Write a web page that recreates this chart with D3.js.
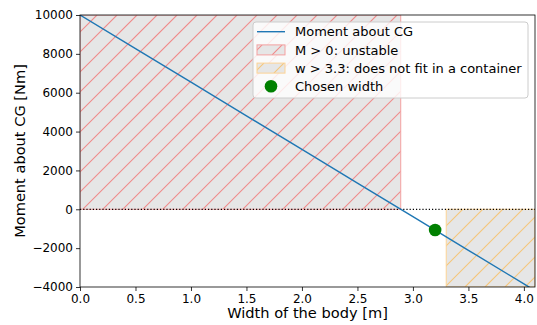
<!DOCTYPE html>
<html>
<head>
<meta charset="utf-8">
<script src="https://cdn.jsdelivr.net/npm/d3@7"></script>
<style>
  html, body { margin: 0; padding: 0; background: #fff; }
  svg { display: block; font-family: "DejaVu Sans", sans-serif; }
</style>
</head>
<body>
<svg id="chart" width="537" height="325"></svg>
<script>
// Moment about the centre of gravity as a function of body width
const widths  = [0, 0.5, 1, 1.5, 2, 2.5, 3, 3.5, 4, 4.1];
const moments = [10000, 8270, 6540, 4810, 3080, 1350, -380, -2110, -3840, -4190];

// Regions and chosen design point
const unstableWidth = [0, 2.89];          // M > 0
const unstableMoment = [0, 10000];
const containerWidth = [3.3, 4.1];        // w > 3.3
const containerMoment = [-4000, 0];
const chosenWidth = [3.2];
const chosenMoment = [-1070];

const xTicks = [0, 0.5, 1, 1.5, 2, 2.5, 3, 3.5, 4];
const yTicks = [-4000, -2000, 0, 2000, 4000, 6000, 8000, 10000];

const legendLabels = [
  "Moment about CG",
  "M > 0: unstable",
  "w > 3.3: does not fit in a container",
  "Chosen width"
];

const margin = { left: 80, right: 2, top: 15, bottom: 38 };
const W = 537, H = 325;
const svg = d3.select("#chart");

const x = d3.scaleLinear().domain([0, 4.1]).range([margin.left, W - margin.right]);
const y = d3.scaleLinear().domain([-4000, 10000]).range([H - margin.bottom, margin.top]);

const fmtMinus = s => s.replace("-", "\u2212");
const defs = svg.append("defs");
let clipCount = 0;

// filled rectangle with "/" hatching drawn as one clipped path
function hatchedRect(parent, x0, y0, w, h, hatchColor, edgeColor) {
  const id = "hclip" + (clipCount++);
  defs.append("clipPath").attr("id", id)
    .append("rect").attr("x", x0).attr("y", y0).attr("width", w).attr("height", h);
  const g = parent.append("g");
  g.append("rect").attr("x", x0).attr("y", y0).attr("width", w).attr("height", h)
    .attr("fill", "#e6e6e6");
  const spacing = 20, phase = 12;
  const cMin = Math.floor((x0 + y0 - phase) / spacing) * spacing + phase;
  const cs = d3.range(cMin, x0 + w + y0 + h + spacing, spacing);
  const p = d3.path();
  cs.forEach(c => { p.moveTo(c - (y0 + h), y0 + h); p.lineTo(c - y0, y0); });
  g.append("path")
    .attr("clip-path", `url(#${id})`)
    .attr("d", p.toString())
    .attr("fill", "none")
    .style("stroke", hatchColor).style("stroke-width", "1.1px");
  g.append("rect").attr("x", x0).attr("y", y0).attr("width", w).attr("height", h)
    .attr("fill", "none").attr("stroke", edgeColor).attr("stroke-width", 1);
}

defs.append("clipPath").attr("id", "plotClip")
  .append("rect")
  .attr("x", x(0)).attr("y", y(10000))
  .attr("width", x(4.1) - x(0)).attr("height", y(-4000) - y(10000));

const plot = svg.append("g").attr("clip-path", "url(#plotClip)");

const red = "#f08c8c", orange = "#f5c67c";

// unstable region
hatchedRect(plot,
  x(unstableWidth[0]), y(unstableMoment[1]),
  x(unstableWidth[1]) - x(unstableWidth[0]),
  y(unstableMoment[0]) - y(unstableMoment[1]),
  red, "#f4a0a0");

// container limit region
hatchedRect(plot,
  x(containerWidth[0]), y(containerMoment[1]),
  x(containerWidth[1]) - x(containerWidth[0]),
  y(containerMoment[0]) - y(containerMoment[1]),
  orange, "#fcd394");

// zero reference
plot.append("line")
  .attr("x1", x(0)).attr("x2", x(4.1))
  .attr("y1", y(0)).attr("y2", y(0))
  .attr("stroke", "#000").attr("stroke-width", 1.2)
  .attr("stroke-dasharray", "1.2,2");

// moment curve
const line = d3.line().x((d, i) => x(widths[i])).y(d => y(d));
plot.append("path")
  .datum(moments)
  .attr("d", line)
  .attr("fill", "none")
  .attr("stroke", "#1f77b4").attr("stroke-width", 1.4);

// chosen width
plot.selectAll("circle.pick")
  .data(chosenWidth)
  .join("circle")
  .attr("class", "pick")
  .attr("cx", d => x(d)).attr("cy", (d, i) => y(chosenMoment[i]))
  .attr("r", 6.3).attr("fill", "#008000");

// axes
const xAxis = d3.axisBottom(x).tickValues(xTicks).tickFormat(d3.format(".1f")).tickSize(4).tickPadding(3);
const yAxis = d3.axisLeft(y).tickValues(yTicks).tickFormat(d => fmtMinus(d3.format("d")(d))).tickSize(4).tickPadding(3);

const gx = svg.append("g").attr("transform", `translate(0,${y(-4000)})`).call(xAxis);
const gy = svg.append("g").attr("transform", `translate(${x(0)},0)`).call(yAxis);
[gx, gy].forEach(g => {
  g.select(".domain").remove();
  g.selectAll("text").attr("font-size", 12).attr("fill", "#000").attr("font-family", "DejaVu Sans");
  g.selectAll("line").attr("stroke", "#000").attr("stroke-width", 0.8);
});

// frame
svg.append("rect")
  .attr("x", x(0)).attr("y", y(10000))
  .attr("width", x(4.1) - x(0)).attr("height", y(-4000) - y(10000))
  .attr("fill", "none").attr("stroke", "#000").attr("stroke-width", 0.8);

// axis titles
svg.append("text")
  .attr("x", (x(0) + x(4.1)) / 2).attr("y", 318)
  .attr("text-anchor", "middle").attr("font-size", 14.6)
  .text("Width of the body [m]");
svg.append("text")
  .attr("transform", `translate(25,${(y(10000) + y(-4000)) / 2}) rotate(-90)`)
  .attr("text-anchor", "middle").attr("font-size", 14.6)
  .text("Moment about CG [Nm]");

// legend
const lg = svg.append("g").attr("transform", "translate(253,22)");
lg.append("rect")
  .attr("width", 275).attr("height", 76).attr("rx", 3)
  .attr("fill", "#fff").attr("fill-opacity", 0.8)
  .attr("stroke", "#cccccc").attr("stroke-width", 1);
const rowY = i => 9.7 + i * 18.2;
lg.append("line")
  .attr("x1", 4).attr("x2", 32).attr("y1", rowY(0)).attr("y2", rowY(0))
  .attr("stroke", "#1f77b4").attr("stroke-width", 1.4);
hatchedRect(lg, 4, rowY(1) - 5, 28, 10, red, "#f4a0a0");
hatchedRect(lg, 4, rowY(2) - 5, 28, 10, orange, "#fcd394");
lg.append("circle")
  .attr("cx", 18).attr("cy", rowY(3)).attr("r", 6.3).attr("fill", "#008000");
lg.selectAll("text.lbl")
  .data(legendLabels)
  .join("text")
  .attr("class", "lbl")
  .attr("x", 42).attr("y", (d, i) => rowY(i))
  .attr("dy", "0.36em")
  .attr("font-size", 13)
  .text(d => d);
</script>
</body>
</html>
